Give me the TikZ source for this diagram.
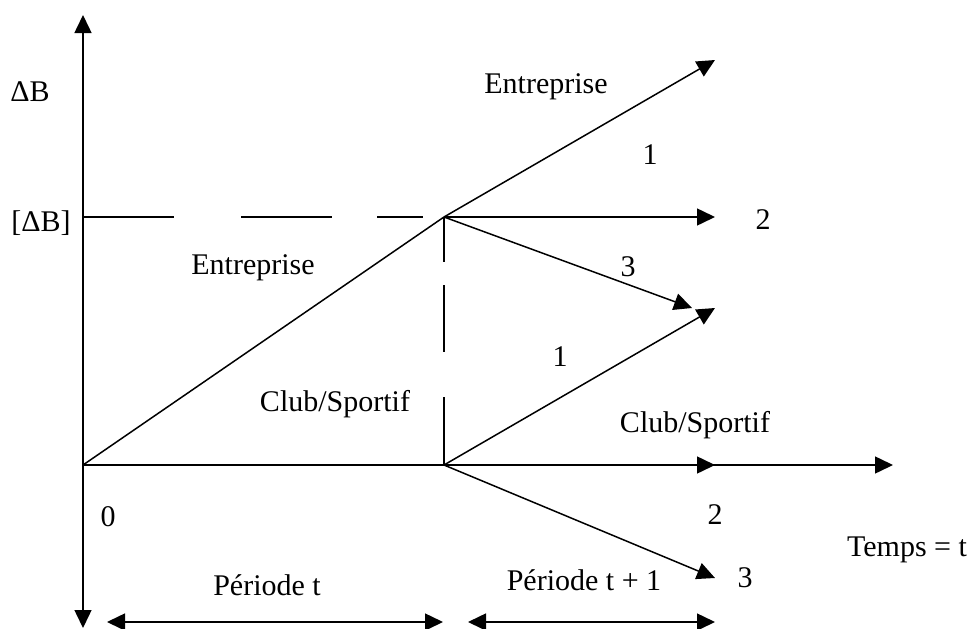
\documentclass[tikz,border=0pt]{standalone}
\usepackage{fontspec}
\setmainfont{Liberation Serif}
\usetikzlibrary{arrows.meta}
\begin{document}
\begin{tikzpicture}[x=1pt,y=-1pt,
  line width=1.5pt,
  arr/.style={-{Triangle[length=18pt,width=17pt]}},
  darr/.style={{Triangle[length=18pt,width=17pt]}-{Triangle[length=18pt,width=17pt]}},
  lbl/.style={inner sep=0pt,font=\fontsize{30}{36}\selectfont}]
\useasboundingbox (0,0) rectangle (972,629);
% points
\coordinate (O) at (83,465);
\coordinate (P) at (444,217);
\coordinate (Q) at (444,465);
\coordinate (top) at (83,15);
\coordinate (bot) at (83,628);
\coordinate (X) at (893,465);
\coordinate (E1) at (715,60);
\coordinate (E2) at (715,217);
\coordinate (E3) at (692,308);
\coordinate (C1) at (715,308);
\coordinate (C2) at (715,465);
\coordinate (C3) at (715,578);
\coordinate (L1) at (107,622);
\coordinate (L2) at (443,622);
\coordinate (R1) at (468,622);
\coordinate (R2) at (715,622);
% dashed guides
\coordinate (h1a) at (83,217); \coordinate (h1b) at (174,217);
\coordinate (h2a) at (241,217); \coordinate (h2b) at (332,217);
\coordinate (h3a) at (377,217); \coordinate (h3b) at (423,217);
\coordinate (v1b) at (444,262);
\coordinate (v2a) at (444,285); \coordinate (v2b) at (444,352);
\coordinate (v3a) at (444,397);
\draw (h1a) -- (h1b);
\draw (h2a) -- (h2b);
\draw (h3a) -- (h3b);
\draw (P) -- (v1b);
\draw (v2a) -- (v2b);
\draw (v3a) -- (Q);
% axes
\draw[arr] (O) -- (top);
\draw[arr] (O) -- (bot);
\draw[arr] (O) -- (X);
% main line
\draw (O) -- (P);
% branches
\draw[arr] (P) -- (E1);
\draw[arr] (P) -- (E2);
\draw[arr] (P) -- (E3);
\draw[arr] (Q) -- (C1);
\draw[arr] (Q) -- (C2);
\draw[arr] (Q) -- (C3);
% periods
\draw[darr] (L1) -- (L2);
\draw[darr] (R1) -- (R2);
% labels
\node[lbl] (dB) at (30,92) {ΔB};
\node[lbl] (dBb) at (41,223) {[ΔB]};
\node[lbl] (ent1) at (546,87) {Entreprise};
\node[lbl] (one1) at (650,155) {1};
\node[lbl] (two1) at (763,220) {2};
\node[lbl] (three1) at (628,267) {3};
\node[lbl] (ent2) at (253,268) {Entreprise};
\node[lbl] (club1) at (335,404) {Club/Sportif};
\node[lbl] (one2) at (560,357) {1};
\node[lbl] (club2) at (695,425) {Club/Sportif};
\node[lbl] (zero) at (108,517) {0};
\node[lbl] (two2) at (715,515) {2};
\node[lbl] (temps) at (907,550) {Temps = t};
\node[lbl] (per1) at (267,585) {Période t};
\node[lbl] (per2) at (584,580) {Période t + 1};
\node[lbl] (three2) at (745,578) {3};
\end{tikzpicture}
\end{document}
